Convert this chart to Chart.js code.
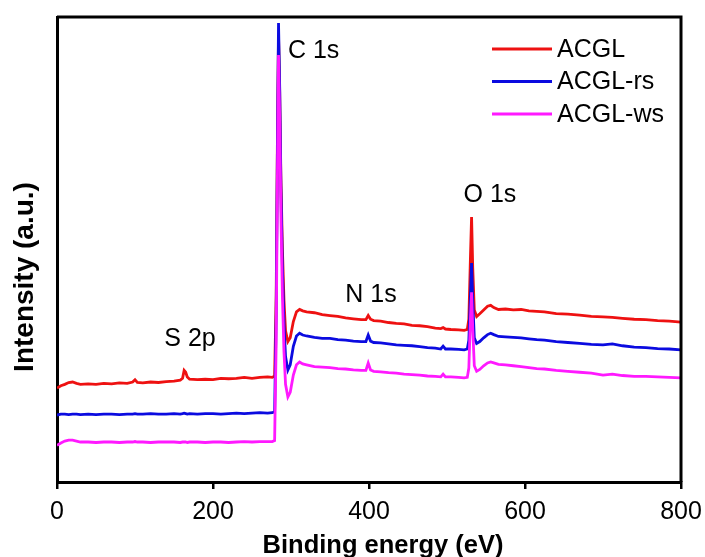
<!DOCTYPE html>
<html>
<head>
<meta charset="utf-8">
<script src="https://cdn.jsdelivr.net/npm/chart.js@4.4.1/dist/chart.umd.min.js"></script>
<style>
  html, body { margin: 0; padding: 0; background: #fff; }
  #wrap { width: 705px; height: 557px; }
</style>
</head>
<body>
<div id="wrap"><canvas id="xps"></canvas></div>
<script>
const energy = [
  0, 5, 10, 15, 20, 25, 30, 40, 50, 60,
  70, 80, 90, 97, 100, 103, 110, 120, 130, 140,
  150, 158, 161, 163, 165, 167, 170, 180, 190, 200,
  210, 220, 230, 240, 250, 260, 270, 276, 279, 281,
  282.5, 284, 285.5, 287, 289, 291, 293, 296, 299, 303,
  307, 311, 315, 320, 330, 340, 350, 360, 370, 380,
  390, 396, 399, 402, 406, 415, 425, 435, 445, 455,
  465, 475, 485, 492, 495, 498, 505, 515, 522, 526,
  528, 530, 531.5, 533, 535, 538, 542, 547, 552, 556,
  560, 566, 575, 585, 595, 605, 615, 625, 640, 655,
  670, 685, 700, 712, 725, 740, 755, 770, 785, 800
];

const acgl = [
  20.2, 20.7, 21.0, 21.4, 21.5, 21.2, 21.0, 21.1, 21.0, 21.2,
  21.1, 21.3, 21.2, 21.5, 22.0, 21.4, 21.3, 21.5, 21.4, 21.6,
  21.7, 21.9, 22.3, 24.0, 23.6, 22.6, 22.1, 22.0, 22.1, 22.0,
  22.3, 22.2, 22.3, 22.5, 22.3, 22.5, 22.6, 22.5, 22.8, 40,
  72, 96, 84, 66, 50, 39, 32.5, 30.2, 31.0, 34.5,
  36.6, 37.1, 36.8, 36.6, 36.4, 36.0, 35.8, 35.6, 35.3, 35.1,
  34.9, 34.9, 35.8, 35.0, 34.7, 34.6, 34.3, 34.1, 34.0, 33.7,
  33.6, 33.4, 33.1, 33.0, 33.2, 32.9, 32.8, 32.7, 32.6, 32.8,
  35, 48, 57.0, 46, 37, 35.6, 36.2, 37.0, 37.8, 38.0,
  37.5, 37.1, 37.2, 37.0, 37.1, 36.8, 36.7, 36.6, 36.2, 36.1,
  35.9, 35.6, 35.5, 35.4, 35.2, 35.0, 34.9, 34.7, 34.6, 34.4
];

const acglRs = [
  14.4, 14.6, 14.6, 14.5, 14.6, 14.6, 14.5, 14.6, 14.5, 14.6,
  14.6, 14.5, 14.6, 14.6, 14.7, 14.6, 14.6, 14.7, 14.6, 14.6,
  14.7, 14.6, 14.7, 14.8, 14.7, 14.6, 14.7, 14.6, 14.7, 14.7,
  14.6, 14.7, 14.8, 14.7, 14.8, 14.9, 14.8, 14.9, 15.1, 36,
  70, 98.7, 85, 64, 46, 34, 27, 24.1, 25.2, 29.2,
  31.4, 32.0, 31.6, 31.4, 31.1, 30.9, 30.9, 30.6, 30.5, 30.3,
  30.2, 30.2, 31.6, 30.3, 30.0, 29.9, 29.7, 29.5, 29.4, 29.3,
  29.1, 28.9, 28.8, 28.6, 29.2, 28.6, 28.6, 28.5, 28.4, 28.6,
  30.5, 40, 47.1, 39, 31, 29.8, 30.2, 31.0, 31.7, 32.0,
  31.7, 31.3, 31.2, 31.1, 31.0, 30.8, 30.6, 30.5, 30.2, 30.0,
  29.8, 29.6, 29.5, 29.7, 29.3, 29.0, 28.9, 28.7, 28.6, 28.4
];

const acglWs = [
  7.9, 8.4, 8.8, 9.0, 9.0, 8.8, 8.6, 8.6, 8.5, 8.6,
  8.6, 8.5, 8.6, 8.6, 8.7, 8.6, 8.6, 8.5, 8.6, 8.6,
  8.6, 8.5, 8.6, 8.6, 8.6, 8.5, 8.6, 8.6, 8.5, 8.6,
  8.6, 8.5, 8.6, 8.7, 8.6, 8.7, 8.7, 8.7, 8.9, 30,
  64, 91.8, 78, 58, 40, 28, 21, 18.3, 19.3, 23.0,
  25.2, 25.8, 25.4, 25.2, 24.8, 24.7, 24.6, 24.4, 24.3, 24.1,
  24.0, 24.0, 25.6, 24.1, 23.8, 23.7, 23.5, 23.4, 23.2, 23.1,
  23.0, 22.8, 22.7, 22.6, 23.2, 22.6, 22.6, 22.5, 22.4, 22.5,
  24.5, 35, 40.8, 33, 25, 23.8, 24.2, 25.0, 25.6, 25.8,
  25.6, 25.3, 25.2, 25.0, 24.8, 24.6, 24.4, 24.3, 24.0, 23.8,
  23.6, 23.4, 23.0, 23.2, 22.9, 22.7, 22.7, 22.6, 22.5, 22.4
];

const seriesNames = ["ACGL", "ACGL-rs", "ACGL-ws"];
const xTicks = [0, 200, 400, 600, 800];

// peak labels: [text, energy, intensity, align]
const peakLabels = [
  ["C 1s", 296, 91.2, "left"],
  ["O 1s", 555, 60.2, "center"],
  ["N 1s", 402.5, 38.7, "center"],
  ["S 2p", 170.5, 29.2, "center"]
];

const red = "#ee1111";
const blue = "#0b0be0";
const magenta = "#ff19ff";
const font = "'Liberation Sans', Arial, sans-serif";

const toPoints = (ys) => ys.map((y, i) => ({ x: energy[i], y: y }));

// frame on top/right, axis titles, legend and peak names
const extras = {
  id: "extras",
  afterDraw(chart) {
    const { ctx, chartArea: a, scales } = chart;
    ctx.save();
    ctx.strokeStyle = "#000";
    ctx.lineWidth = 3;
    ctx.beginPath();
    ctx.moveTo(a.left, a.top);
    ctx.lineTo(a.right, a.top);
    ctx.lineTo(a.right, a.bottom);
    ctx.stroke();

    ctx.fillStyle = "#000";
    ctx.font = "25px " + font;
    ctx.textBaseline = "alphabetic";
    peakLabels.forEach(([t, x, y, al]) => {
      ctx.textAlign = al;
      ctx.fillText(t, scales.x.getPixelForValue(x), scales.y.getPixelForValue(y));
    });

    const cols = [red, blue, magenta];
    ctx.textAlign = "left";
    ctx.textBaseline = "middle";
    seriesNames.forEach((name, i) => {
      const y = 49 + i * 32.5;
      ctx.strokeStyle = cols[i];
      ctx.lineWidth = 3;
      ctx.beginPath();
      ctx.moveTo(492, y);
      ctx.lineTo(552, y);
      ctx.stroke();
      ctx.fillStyle = "#000";
      ctx.fillText(name, 557, y + 1);
    });

    ctx.font = "bold 25.5px " + font;
    ctx.textAlign = "center";
    ctx.textBaseline = "alphabetic";
    ctx.fillText("Binding energy (eV)", 383, 553);

    ctx.translate(25, 277);
    ctx.rotate(-Math.PI / 2);
    ctx.font = "bold 28px " + font;
    ctx.textBaseline = "middle";
    ctx.fillText("Intensity (a.u.)", 0, 0);
    ctx.restore();
  }
};

new Chart(document.getElementById("xps").getContext("2d"), {
  type: "line",
  data: {
    datasets: [
      { label: seriesNames[0], data: toPoints(acgl), borderColor: red, order: 3 },
      { label: seriesNames[1], data: toPoints(acglRs), borderColor: blue, order: 2 },
      { label: seriesNames[2], data: toPoints(acglWs), borderColor: magenta, order: 1 }
    ]
  },
  options: {
    responsive: true,
    maintainAspectRatio: false,
    animation: false,
    elements: {
      line: { borderWidth: 2.8, tension: 0 },
      point: { radius: 0 }
    },
    layout: { padding: { left: 0, right: 24, top: 17, bottom: 0 } },
    plugins: {
      legend: { display: false },
      tooltip: { enabled: false }
    },
    scales: {
      x: {
        type: "linear",
        min: 0,
        max: 800,
        afterBuildTicks: (s) => { s.ticks = xTicks.map((v) => ({ value: v })); },
        afterFit: (s) => { s.height = 75; s.paddingLeft = 0; s.paddingRight = 0; },
        ticks: { color: "#000", padding: 8, font: { family: font, size: 25 } },
        grid: { drawOnChartArea: false, drawTicks: true, tickLength: 7, color: "#000", lineWidth: 2.5 },
        border: { display: true, color: "#000", width: 3 }
      },
      y: {
        min: 0,
        max: 100,
        afterFit: (s) => { s.width = 57; },
        ticks: { display: false },
        grid: { display: false },
        border: { display: true, color: "#000", width: 3 }
      }
    }
  },
  plugins: [extras]
});
</script>
</body>
</html>
